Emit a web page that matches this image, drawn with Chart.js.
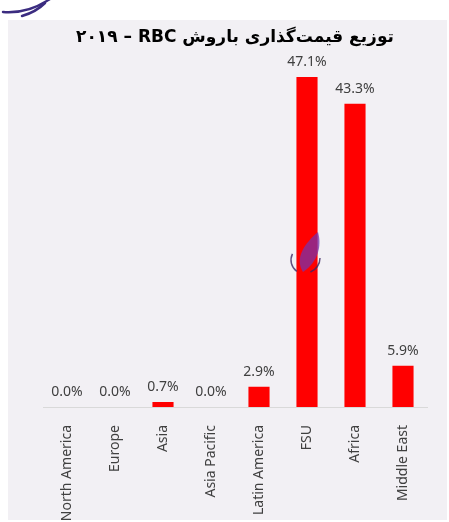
<!DOCTYPE html>
<html>
<head>
<meta charset="utf-8">
<script src="https://cdn.jsdelivr.net/npm/chart.js@4/dist/chart.umd.min.js"></script>
<style>
  html, body { margin: 0; padding: 0; background: #fff; }
  canvas { display: block; }
</style>
</head>
<body>
<canvas id="chart" width="449" height="522" dir="rtl"></canvas>
<script>
// values
const regions = ['North America', 'Europe', 'Asia', 'Asia Pacific', 'Latin America', 'FSU', 'Africa', 'Middle East']
const shares = [0.0, 0.0, 0.7, 0.0, 2.9, 47.1, 43.3, 5.9]
const titleText = 'توزیع قیمت‌گذاری باروش RBC \u200F– ۲۰۱۹'

const textColor = '#404040'

// grey panel, plus the purple logo bits of the original picture
const backdrop = {
    id: 'backdrop',
    beforeDraw(chart){
        const ctx = chart.ctx
        ctx.save()
        ctx.fillStyle = '#f2f0f4'
        ctx.fillRect(8, 20, 439, 500)
        ctx.strokeStyle = '#3b2c80'
        ctx.lineWidth = 2.5
        ctx.lineCap = 'round'
        ctx.beginPath()
        ctx.moveTo(3, 12)
        ctx.quadraticCurveTo(28, 14, 50, -1)
        ctx.stroke()
        ctx.beginPath()
        ctx.moveTo(22, 16)
        ctx.quadraticCurveTo(36, 12, 45, 3)
        ctx.stroke()
        ctx.restore()
    },
    afterDatasetsDraw(chart){
        // small watermark on the tall bar
        const ctx = chart.ctx
        ctx.save()
        ctx.fillStyle = 'rgba(120, 50, 170, 0.75)'
        ctx.beginPath()
        ctx.moveTo(303, 272)
        ctx.bezierCurveTo(294, 258, 305, 243, 318, 232)
        ctx.bezierCurveTo(322, 246, 318, 262, 303, 272)
        ctx.fill()
        ctx.strokeStyle = 'rgba(60, 40, 100, 0.8)'
        ctx.lineWidth = 1.5
        ctx.beginPath()
        ctx.arc(305, 260, 14, 2.2, 3.6)
        ctx.stroke()
        ctx.beginPath()
        ctx.arc(305, 258, 15, 0.0, 1.2)
        ctx.stroke()
        ctx.restore()
    }
}

// percentage labels above the bars
const valueLabels = {
    id: 'valueLabels',
    afterDatasetsDraw(chart){
        const ctx = chart.ctx
        const meta = chart.getDatasetMeta(0)
        ctx.save()
        ctx.direction = 'ltr'
        ctx.font = '14px "Noto Sans"'
        ctx.fillStyle = textColor
        ctx.textAlign = 'center'
        ctx.textBaseline = 'middle'
        meta.data.forEach((bar, i) => {
            ctx.fillText(shares[i].toFixed(1) + '%', bar.x, bar.y - 15)
        })
        ctx.restore()
    }
}

new Chart(document.getElementById('chart'), {
    type: 'bar',
    data: {
        labels: regions,
        datasets: [{
            data: shares,
            backgroundColor: '#ff0000',
            borderWidth: 0,
            categoryPercentage: 1,
            barPercentage: 0.44
        }]
    },
    options: {
        responsive: false,
        devicePixelRatio: 1,
        animation: false,
        layout: { padding: { top: 20, left: 43, right: 22, bottom: 2 } },
        plugins: {
            legend: { display: false },
            tooltip: { enabled: false },
            title: {
                display: true,
                text: titleText,
                color: '#000',
                font: { family: '"DejaVu Sans"', size: 17, weight: 'bold', lineHeight: 1.4 },
                padding: { top: 6, bottom: 7 }
            }
        },
        scales: {
            x: {
                grid: { display: false },
                border: { display: true, color: '#d9d9d9', width: 1 },
                ticks: {
                    color: textColor,
                    font: { family: '"Noto Sans"', size: 14 },
                    autoSkip: false,
                    minRotation: 90,
                    maxRotation: 90,
                    padding: 10
                },
                afterFit(scale){ scale.height = 113 }
            },
            y: { display: false, min: 0, max: 50 }
        }
    },
    plugins: [backdrop, valueLabels]
})
</script>
</body>
</html>
